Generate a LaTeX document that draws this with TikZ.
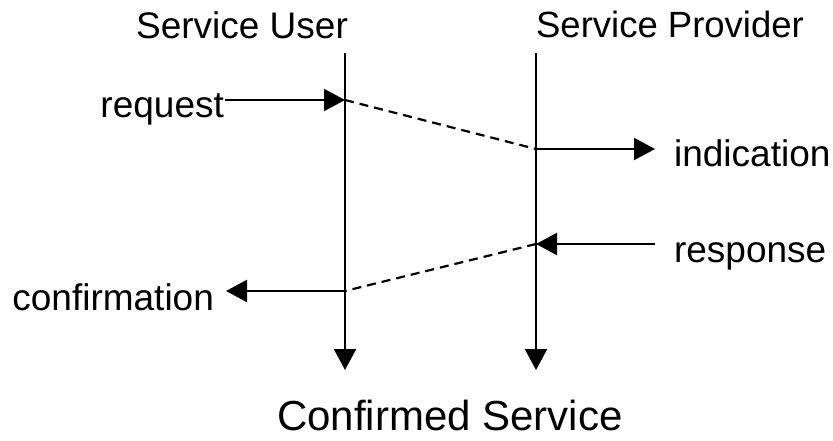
\documentclass[tikz,border=0pt]{standalone}
\usepackage{fontspec}
\setmainfont{Liberation Sans}
\usetikzlibrary{arrows.meta}

\begin{document}
\begin{tikzpicture}[x=1pt,y=-1pt,line width=2.2pt,
	lbl/.style={inner sep=0pt,font=\fontsize{37}{44}\selectfont},
	msg/.style={-{Triangle[length=21pt,width=22pt]}},
	conn/.style={dash pattern=on 9pt off 6pt}]
	\fill[white] (0,0) rectangle (833,440);
	\useasboundingbox (0,0) rectangle (833,440);
	\node[lbl,anchor=base] (user) at (242,38) {Service User};
	\node[lbl,anchor=base,font=\fontsize{36.5}{44}\selectfont] (prov) at (670,37) {Service Provider};
	\coordinate (utop) at (345,53);
	\coordinate (ubot) at (345,370);
	\coordinate (ptop) at (536,53);
	\coordinate (pbot) at (536,370);
	\draw[msg] (utop) -- (ubot); % usuario
	\draw[msg] (ptop) -- (pbot); % proveedor
	% primitivas
	\node[lbl,anchor=base east] (req) at (225,117) {request};
	\node[lbl,anchor=base west] (ind) at (673,166) {indication};
	\node[lbl,anchor=base west] (resp) at (673,262) {response};
	\node[lbl,anchor=base east] (conf) at (215,310) {confirmation};
	\coordinate (u1) at (345,100);
	\coordinate (p1) at (536,149);
	\coordinate (p1e) at (655,149);
	\coordinate (p2s) at (655,244);
	\coordinate (p2) at (536,244);
	\coordinate (u2) at (345,291);
	\coordinate (u2e) at (226,291);
	\draw[msg] (req.east |- u1) -- (u1);
	\draw[conn] (u1) -- (p1);
	\draw[msg] (p1) -- (p1e);
	\draw[msg] (p2s) -- (p2);
	\draw[conn] (p2) -- (u2);
	\draw[msg] (u2) -- (u2e);
	\node[lbl,anchor=base,font=\fontsize{42}{50}\selectfont] (title) at (450,430) {Confirmed Service};
\end{tikzpicture}
\end{document}
